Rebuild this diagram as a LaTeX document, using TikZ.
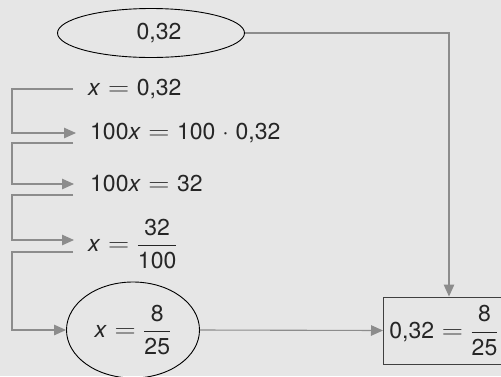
\documentclass[tikz,border=0pt]{standalone}
\usepackage{fontspec}
\usepackage{graphicx}
\setmainfont{TeX Gyre Heros}
\usetikzlibrary{shapes.geometric,arrows.meta}
\definecolor{bg}{HTML}{E6E6E6}
\definecolor{ln}{HTML}{8C8C8C}
\definecolor{tx}{HTML}{262626}
\newcommand{\vx}{\textit{x}}
\newcommand{\eqs}{\hspace{0.33em}\scalebox{1.18}[1]{\ensuremath{=}}\hspace{0.33em}}
\newcommand{\dts}{\hspace{0.3em}·\hspace{0.3em}}
\newcommand{\fr}[2]{\ensuremath{\displaystyle\frac{\textrm{#1}}{\textrm{#2}}}}
\tikzset{
  conn/.style={draw=ln, line width=1.1pt, -{Triangle[length=12pt,width=10.5pt]}},
  eq/.style={anchor=west, inner sep=3pt, text=tx, font=\fontsize{23}{27}\selectfont},
  oval/.style={ellipse, draw=black, line width=0.9pt, inner sep=0pt, text=tx, font=\fontsize{23}{27}\selectfont},
  resbox/.style={draw=black!75, line width=0.9pt, anchor=west, inner xsep=6pt, minimum height=67pt, text=tx, font=\fontsize{23}{27}\selectfont}
}
\begin{document}
\begin{tikzpicture}[x=1pt,y=-1pt]
\fill[bg] (0,0) rectangle (501,376);
\useasboundingbox (0,0) rectangle (501,376);
\clip (0,0) rectangle (501,376);
\node[oval, minimum width=187pt, minimum height=49pt] (top) at (151,33) {\hspace*{16pt}0,32};
\node[eq] (e1) at (85,89) {\vx\eqs0,32};
\node[eq] (e2) at (87,133) {100\vx\eqs100\dts0,32};
\node[eq] (e3) at (87,184) {100\vx\eqs32};
\node[eq] (e4) at (85,244) {\vx\eqs\fr{32}{100}};
\node[oval, minimum width=133pt, minimum height=96pt] (bot) at (133,330) {\vx\eqs\fr{8}{25}};
\node[resbox] (box) at (383,330.5) {0,32\eqs\fr{8}{25}};
\draw[conn] (top.east) -| ([xshift=66pt]box.north west);
\draw[conn] ([xshift=-12pt]e1.west) -- ++(-61,0) |- ([xshift=-11pt]e2.west);
\draw[conn] ([xshift=-14pt,yshift=-10pt]e2.west) -- ++(-61,0) |- ([xshift=-13pt]e3.west);
\draw[conn] ([xshift=-14pt,yshift=-11pt]e3.west) -- ++(-61,0) |- ([xshift=-11pt,yshift=4pt]e4.west);
\draw[conn] ([xshift=-12pt,yshift=-8pt]e4.west) -- ++(-61,0) |- (bot.west);
\draw[conn] (bot.east) -- (box.west);
\end{tikzpicture}
\end{document}
